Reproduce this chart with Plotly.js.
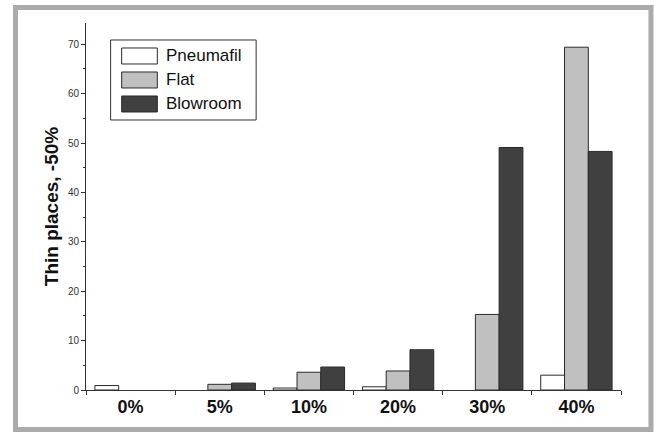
<!DOCTYPE html>
<html>
<head>
<meta charset="utf-8">
<script src="https://cdn.plot.ly/plotly-3.0.1.min.js"></script>
<style>html,body{margin:0;padding:0;background:#fff;}#chart{width:654px;height:432px;}</style>
</head>
<body>
<div id="chart"></div>
<script>
const categories = ['0%', '5%', '10%', '20%', '30%', '40%'];
const seriesNames = ['Pneumafil', 'Flat', 'Blowroom'];
const pneumafil = [0.9, null, 0.4, 0.65, null, 3.0];
const flat = [null, 1.15, 3.6, 3.85, 15.3, 69.4];
const blowroom = [null, 1.4, 4.65, 8.15, 49.1, 48.3];
const yTickVals = [0, 10, 20, 30, 40, 50, 60, 70];

const colors = ['#ffffff', '#c0c0c0', '#404040'];
const values = [pneumafil, flat, blowroom];

const traces = values.map((v, i) => ({
  type: 'bar',
  x: categories,
  y: v,
  name: seriesNames[i],
  marker: {color: colors[i], line: {color: '#2a2a2a', width: 1}},
  showlegend: false,
  hoverinfo: 'skip'
}));

const shapes = [];
const annotations = [];
// outer frame
shapes.push({type: 'rect', xref: 'paper', yref: 'paper',
  x0: -0.1318, x1: 1.056, y0: -0.1076, y1: 1.0422,
  line: {color: '#ababab', width: 5}, fillcolor: 'rgba(0,0,0,0)', layer: 'below'});
// legend box
shapes.push({type: 'rect', xref: 'paper', yref: 'paper',
  x0: 0.046, x1: 0.318, y0: 0.7357, y1: 0.9537,
  line: {color: '#333333', width: 1}, fillcolor: '#ffffff'});
const rowCenters = [0.9101, 0.8447, 0.7793];
seriesNames.forEach((n, i) => {
  const cy = rowCenters[i];
  shapes.push({type: 'rect', xref: 'paper', yref: 'paper',
    x0: 0.0667, x1: 0.1333, y0: cy - 0.0218, y1: cy + 0.0218,
    line: {color: '#2a2a2a', width: 1}, fillcolor: colors[i]});
  annotations.push({xref: 'paper', yref: 'paper', x: 0.1464, y: cy,
    xanchor: 'left', yanchor: 'middle', text: n, showarrow: false,
    font: {family: 'Arial, Liberation Sans, sans-serif', size: 17, color: '#111111'}});
});

const layout = {
  width: 654, height: 432,
  margin: {l: 86, r: 33, t: 23, b: 42},
  paper_bgcolor: '#ffffff', plot_bgcolor: '#ffffff',
  barmode: 'group', bargap: 0.2, bargroupgap: 0,
  font: {family: 'Arial, Liberation Sans, sans-serif'},
  xaxis: {
    type: 'category', range: [-0.5, 5.5],
    showline: true, linecolor: '#333333', linewidth: 1,
    ticks: 'outside', ticklen: 4, tickcolor: '#333333', tickson: 'boundaries',
    showgrid: false, zeroline: false,
    tickfont: {family: 'Arial, Liberation Sans, sans-serif', size: 18, color: '#111111', weight: 'bold'}
  },
  yaxis: {
    range: [0, 74.3],
    tickvals: yTickVals,
    showline: true, linecolor: '#333333', linewidth: 1,
    ticks: 'outside', ticklen: 4, tickcolor: '#333333',
    minor: {dtick: 5, ticks: 'outside', ticklen: 2, tickcolor: '#333333'},
    showgrid: false, zeroline: false,
    tickfont: {family: 'Arial, Liberation Sans, sans-serif', size: 10, color: '#333333'},
    title: {text: '<b>Thin places, -50%</b>', standoff: 4,
      font: {family: 'Arial, Liberation Sans, sans-serif', size: 19, color: '#111111'}}
  },
  shapes: shapes,
  annotations: annotations,
  showlegend: false
};

Plotly.newPlot('chart', traces, layout, {displayModeBar: false, staticPlot: true});
</script>
</body>
</html>
